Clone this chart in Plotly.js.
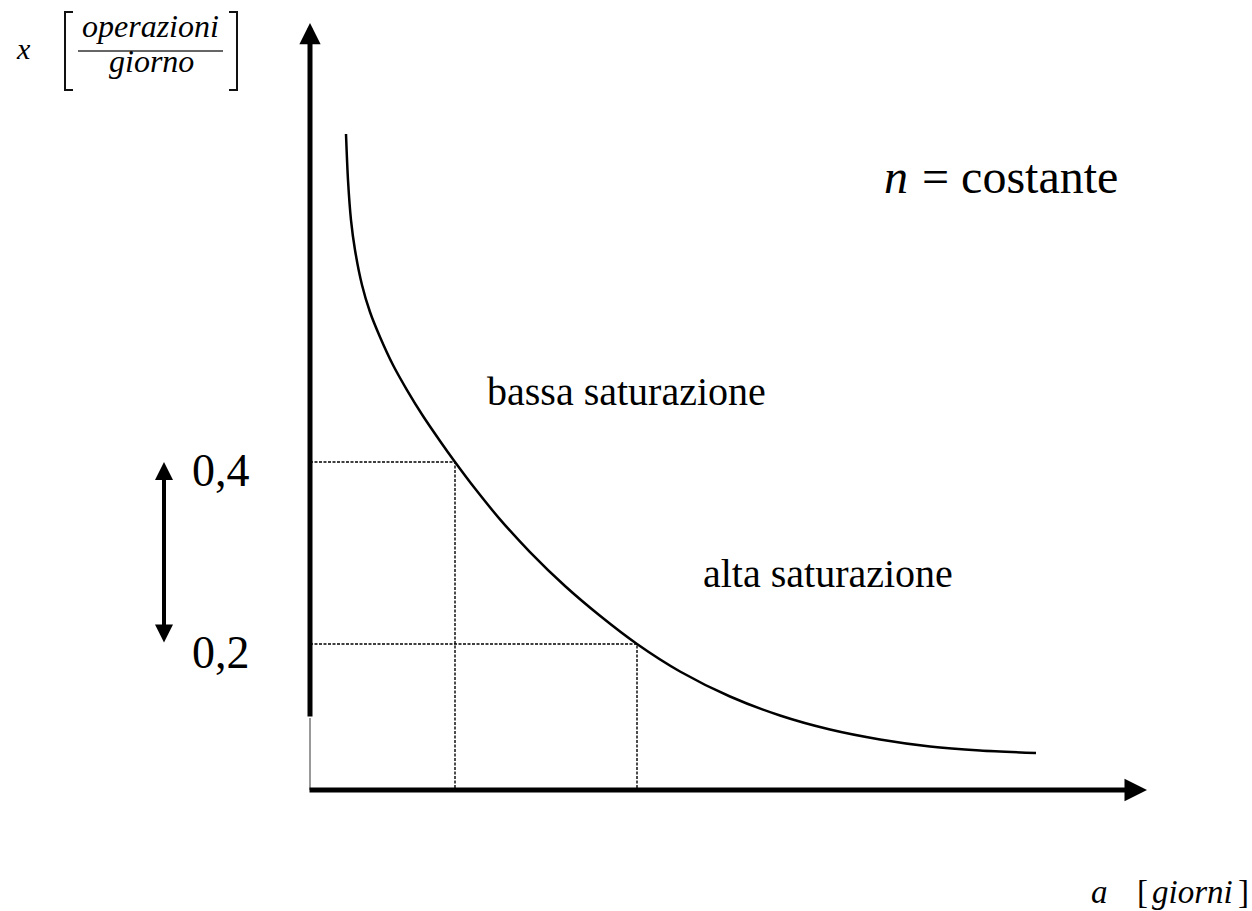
<!DOCTYPE html>
<html>
<head>
<meta charset="utf-8">
<script src="https://cdn.plot.ly/plotly-3.0.1.min.js"></script>
<style>html,body{margin:0;padding:0;background:#fff;}#chart{width:1252px;height:911px;}</style>
</head>
<body>
<div id="chart"></div>
<script>
// ---- data ----
const aValues = [0.36, 0.38, 0.41, 0.45, 0.52, 0.60, 0.70, 0.83, 0.97, 1.13, 1.30, 1.45, 1.65, 1.90, 2.20, 2.55, 2.90, 3.27, 3.70, 4.20, 4.70, 5.20, 5.70, 6.20, 6.70, 7.26];
const xValues = [0.7604, 0.7099, 0.6659, 0.6330, 0.5945, 0.5648, 0.5374, 0.5066, 0.4791, 0.4505, 0.4231, 0.4000, 0.3708, 0.3370, 0.3010, 0.2637, 0.2310, 0.2000, 0.1698, 0.1423, 0.1214, 0.1060, 0.0951, 0.0874, 0.0830, 0.0802];
const levels = [0.4, 0.2];
const levelLabels = ['0,4', '0,2'];
const aAtLevel = [1.45, 3.27];
const regionLabels = ['bassa saturazione', 'alta saturazione'];
const curveVar = 'n';
const curveText = '= costante';
const yTitleVar = 'x';
const yTitleNum = 'operazioni';
const yTitleDen = 'giorno';
const xTitleVar = 'a';
const xTitleUnit = 'giorni';

// ---- layout geometry ----
const W = 1252, H = 911;
const X_RANGE = [-3.10, 9.42];
const Y_RANGE = [-0.093407, 0.907692];
const AXIS_Y = 0.0396;       // where the horizontal axis is drawn
const Y_AXIS_TOP = 0.8824;
const Y_AXIS_THICK_END = 0.1187;
const FONT = 'Liberation Serif';

function px2x(p) { return X_RANGE[0] + p / W * (X_RANGE[1] - X_RANGE[0]); }
function pX(p) { return p / W; }
function pY(p) { return 1 - p / H; }
function txt(text, x, y, xref, xanchor, size, italic) {
  return {x: x, y: y, xref: xref, yref: xref === 'x' ? 'y' : 'paper', xanchor: xanchor, yanchor: 'middle',
    text: text, showarrow: false,
    font: {family: FONT, size: size, color: '#000', style: italic ? 'italic' : 'normal'}};
}

const traces = [];
// dashed guide lines
levels.forEach((lv, i) => {
  traces.push({
    x: [0, aAtLevel[i], aAtLevel[i]],
    y: [lv, lv, AXIS_Y],
    mode: 'lines', type: 'scatter', hoverinfo: 'skip', showlegend: false,
    line: {color: '#000', width: 1.4, dash: '3px,1.5px'}
  });
});
// the curve
traces.push({
  x: aValues, y: xValues, mode: 'lines', type: 'scatter', showlegend: false,
  line: {color: '#000', width: 2.5, shape: 'spline', smoothing: 0.8}
});

const annotations = [];
// axes with arrows
annotations.push({x: 0, y: Y_AXIS_TOP, ax: 0, ay: Y_AXIS_THICK_END, axref: 'x', ayref: 'y', xref: 'x', yref: 'y',
  text: '', showarrow: true, arrowhead: 2, arrowsize: 0.85, arrowwidth: 5, arrowcolor: '#000'});
annotations.push({x: px2x(1147), y: AXIS_Y, ax: px2x(308), ay: AXIS_Y, axref: 'x', ayref: 'y', xref: 'x', yref: 'y',
  text: '', showarrow: true, arrowhead: 2, arrowsize: 0.9, arrowwidth: 5, arrowcolor: '#000'});
// double arrow between the two levels
annotations.push({x: px2x(164), y: levels[0], ax: px2x(164), ay: levels[1], axref: 'x', ayref: 'y', xref: 'x', yref: 'y',
  text: '', showarrow: true, arrowside: 'end+start', arrowhead: 2, startarrowhead: 2,
  arrowsize: 0.9, startarrowsize: 0.9, arrowwidth: 4, arrowcolor: '#000'});
// level labels
levelLabels.forEach((t, i) => {
  annotations.push(txt(t, px2x(190), levels[i] - 0.009, 'x', 'left', 46, false));
});
// region labels
annotations.push(txt(regionLabels[0], px2x(485), 0.4775, 'x', 'left', 40, false));
annotations.push(txt(regionLabels[1], px2x(701), 0.2775, 'x', 'left', 40, false));
annotations.push(txt(curveVar, px2x(882), 0.7134, 'x', 'left', 48, true));
annotations.push(txt(curveText, px2x(920), 0.7134, 'x', 'left', 48, false));
// y title
annotations.push(txt(yTitleVar, pX(14), pY(48), 'paper', 'left', 30, true));
annotations.push(txt(yTitleNum, pX(150), pY(26), 'paper', 'center', 32, true));
annotations.push(txt(yTitleDen, pX(151), pY(61), 'paper', 'center', 32, true));
// x title
annotations.push(txt(xTitleVar, pX(1089), pY(892), 'paper', 'left', 33, true));
annotations.push(txt('[', pX(1135), pY(892), 'paper', 'left', 33, false));
annotations.push(txt(xTitleUnit, pX(1150), pY(892), 'paper', 'left', 33, true));
annotations.push(txt(']', pX(1251), pY(892), 'paper', 'right', 33, false));

const shapes = [
  // thin lower part of the vertical axis
  {type: 'line', xref: 'x', yref: 'y', x0: 0, x1: 0, y0: Y_AXIS_THICK_END, y1: AXIS_Y, line: {color: '#777', width: 1.5}},
  // fraction bar
  {type: 'line', xref: 'paper', yref: 'paper', x0: pX(78), x1: pX(223), y0: pY(51), y1: pY(51), line: {color: '#333', width: 1.6}},
  // brackets
  {type: 'path', xref: 'paper', yref: 'paper', line: {color: '#111', width: 2},
   path: `M ${pX(73)} ${pY(12)} L ${pX(65)} ${pY(12)} L ${pX(65)} ${pY(90)} L ${pX(73)} ${pY(90)}`},
  {type: 'path', xref: 'paper', yref: 'paper', line: {color: '#111', width: 2},
   path: `M ${pX(229)} ${pY(12)} L ${pX(237)} ${pY(12)} L ${pX(237)} ${pY(90)} L ${pX(229)} ${pY(90)}`}
];

const layout = {
  width: W, height: H,
  margin: {l: 0, r: 0, t: 0, b: 0, pad: 0},
  paper_bgcolor: '#fff', plot_bgcolor: '#fff',
  showlegend: false,
  xaxis: {range: X_RANGE, visible: false, fixedrange: true},
  yaxis: {range: Y_RANGE, visible: false, fixedrange: true},
  annotations: annotations,
  shapes: shapes
};

Plotly.newPlot('chart', traces, layout, {displayModeBar: false, staticPlot: true});
</script>
</body>
</html>
